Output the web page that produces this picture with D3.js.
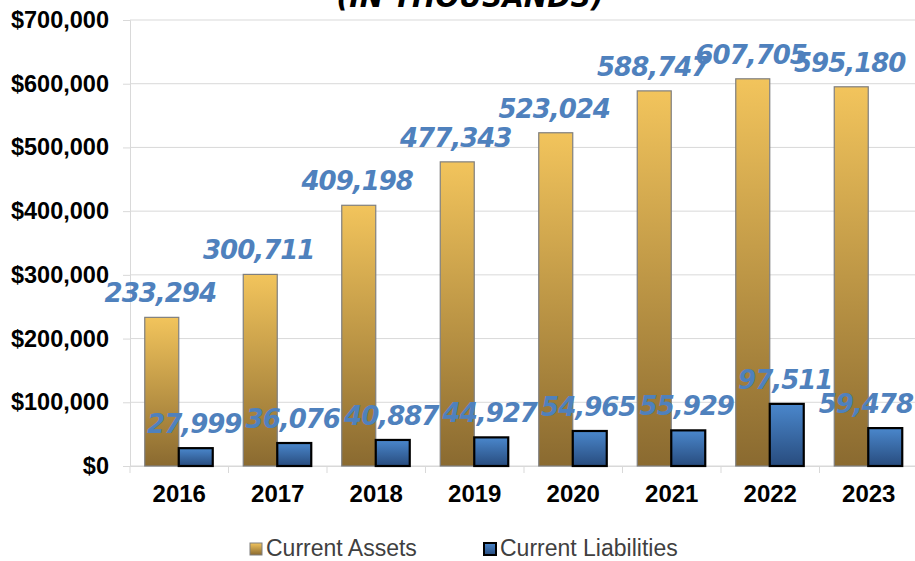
<!DOCTYPE html>
<html>
<head>
<meta charset="utf-8">
<script src="https://cdn.jsdelivr.net/npm/d3@7"></script>
<style>
  body { margin: 0; background: #fff; }
  text { font-family: "Liberation Sans", Arial, sans-serif; }
</style>
</head>
<body>
<script>
// chart data
const years = ["2016", "2017", "2018", "2019", "2020", "2021", "2022", "2023"];
const currentAssets = [233294, 300711, 409198, 477343, 523024, 588747, 607705, 595180];
const currentLiabilities = [27999, 36076, 40887, 44927, 54965, 55929, 97511, 59478];
const yTicks = [0, 100000, 200000, 300000, 400000, 500000, 600000, 700000];
const seriesNames = ["Current Assets", "Current Liabilities"];

const W = 915, H = 561;
const margin = {top: 20, left: 130, bottom: 95, right: -3};
const width = W - margin.left - margin.right;
const height = H - margin.top - margin.bottom;

const svg = d3.select("body").append("svg")
  .attr("width", W).attr("height", H);

const defs = svg.append("defs");
function gradient(id, top, bottom) {
  const g = defs.append("linearGradient").attr("id", id)
    .attr("x1", 0).attr("y1", 0).attr("x2", 0).attr("y2", 1);
  g.append("stop").attr("offset", "0%").attr("stop-color", top);
  g.append("stop").attr("offset", "100%").attr("stop-color", bottom);
}
gradient("goldGrad", "#f2c45c", "#8a6a30");
gradient("blueGrad", "#4a87cc", "#284c7e");

const g = svg.append("g").attr("transform", `translate(${margin.left},${margin.top})`);

const x = d3.scaleBand().domain(years).range([0, width]);
const y = d3.scaleLinear().domain([0, 700000]).range([height, 0]);
const barW = 34;

// gridlines
g.selectAll(".grid").data(yTicks).enter().append("line")
  .attr("x1", 0).attr("x2", width)
  .attr("y1", d => y(d)).attr("y2", d => y(d))
  .attr("stroke", "#d9d9d9").attr("stroke-width", 1);

// y axis
const yAxis = g.append("g")
  .call(d3.axisLeft(y).tickValues(yTicks).tickSize(7).tickPadding(14)
    .tickFormat(d => "$" + d3.format(",")(d)));
yAxis.select(".domain").attr("stroke", "#d9d9d9");
yAxis.selectAll(".tick line").attr("stroke", "#d9d9d9");
yAxis.selectAll("text").attr("font-size", 23.5).attr("font-weight", "bold")
  .attr("fill", "#000").style("font-family", "Liberation Sans, Arial, sans-serif");

// x axis
const xAxis = g.append("g").attr("transform", `translate(0,${height})`)
  .call(d3.axisBottom(x).tickSize(0).tickPadding(19));
xAxis.select(".domain").attr("stroke", "#d9d9d9");
xAxis.selectAll("text").attr("font-size", 24).attr("font-weight", "bold")
  .attr("fill", "#000").style("font-family", "Liberation Sans, Arial, sans-serif");
// category separators
g.selectAll(".sep").data(years.concat(["end"])).enter().append("line")
  .attr("x1", (d, i) => i * x.bandwidth()).attr("x2", (d, i) => i * x.bandwidth())
  .attr("y1", height).attr("y2", height + 7)
  .attr("stroke", "#d9d9d9");

const center = d => x(d) + x.bandwidth() / 2;

// asset bars
g.selectAll(".asset").data(years).enter().append("rect")
  .attr("x", d => center(d) - barW - 0.5)
  .attr("y", (d, i) => y(currentAssets[i]))
  .attr("width", barW)
  .attr("height", (d, i) => height - y(currentAssets[i]))
  .attr("fill", "url(#goldGrad)")
  .attr("stroke", "#7f7f7f").attr("stroke-width", 1.2);

// liability bars
g.selectAll(".liab").data(years).enter().append("rect")
  .attr("x", d => center(d) - 0.5)
  .attr("y", (d, i) => y(currentLiabilities[i]))
  .attr("width", barW)
  .attr("height", (d, i) => height - y(currentLiabilities[i]))
  .attr("fill", "url(#blueGrad)")
  .attr("stroke", "#000").attr("stroke-width", 2.2);

// value labels
const labelStyle = sel => sel
  .attr("text-anchor", "middle")
  .attr("font-size", 26).attr("font-style", "italic").attr("font-weight", "bold")
  .attr("fill", "#4f81bd")
  .style("font-family", "DejaVu Sans, sans-serif")
  .attr("letter-spacing", -1);

// keep labels inside the window, like Excel does
function keepInside(sel) {
  sel.each(function() {
    const t = d3.select(this);
    const w = this.getComputedTextLength();
    const cx = +t.attr("x");
    const maxCx = width + margin.right - w / 2 - 2;
    if (cx > maxCx) t.attr("x", maxCx);
  });
}

g.selectAll(".assetLbl").data(years).enter().append("text")
  .attr("x", d => center(d) - barW / 2 - 2)
  .attr("y", (d, i) => y(currentAssets[i]) - 15)
  .text((d, i) => d3.format(",")(currentAssets[i]))
  .call(labelStyle)
  .call(keepInside);

g.selectAll(".liabLbl").data(years).enter().append("text")
  .attr("x", d => center(d) + barW / 2 - 2)
  .attr("y", (d, i) => y(currentLiabilities[i]) - 15)
  .text((d, i) => d3.format(",")(currentLiabilities[i]))
  .call(labelStyle)
  .call(keepInside);

// title, mostly cut off at the top
svg.append("text")
  .attr("x", 470).attr("y", 7)
  .attr("text-anchor", "middle")
  .attr("font-size", 28).attr("font-weight", "bold").attr("font-style", "italic")
  .style("font-family", "DejaVu Sans, sans-serif")
  .text("(IN THOUSANDS)");

// legend
const legendX = [250, 484];
const legend = svg.selectAll(".legend").data(seriesNames).enter().append("g")
  .attr("transform", (d, i) => `translate(${legendX[i]},543)`);
legend.append("rect")
  .attr("width", 12).attr("height", 12)
  .attr("fill", (d, i) => i === 0 ? "url(#goldGrad)" : "url(#blueGrad)")
  .attr("stroke", (d, i) => i === 0 ? "#7f7f7f" : "#000")
  .attr("stroke-width", (d, i) => i === 0 ? 1 : 2);
legend.append("text")
  .attr("x", 16).attr("y", 13)
  .attr("font-size", 23).attr("fill", "#404040")
  .text(d => d);
</script>
</body>
</html>
